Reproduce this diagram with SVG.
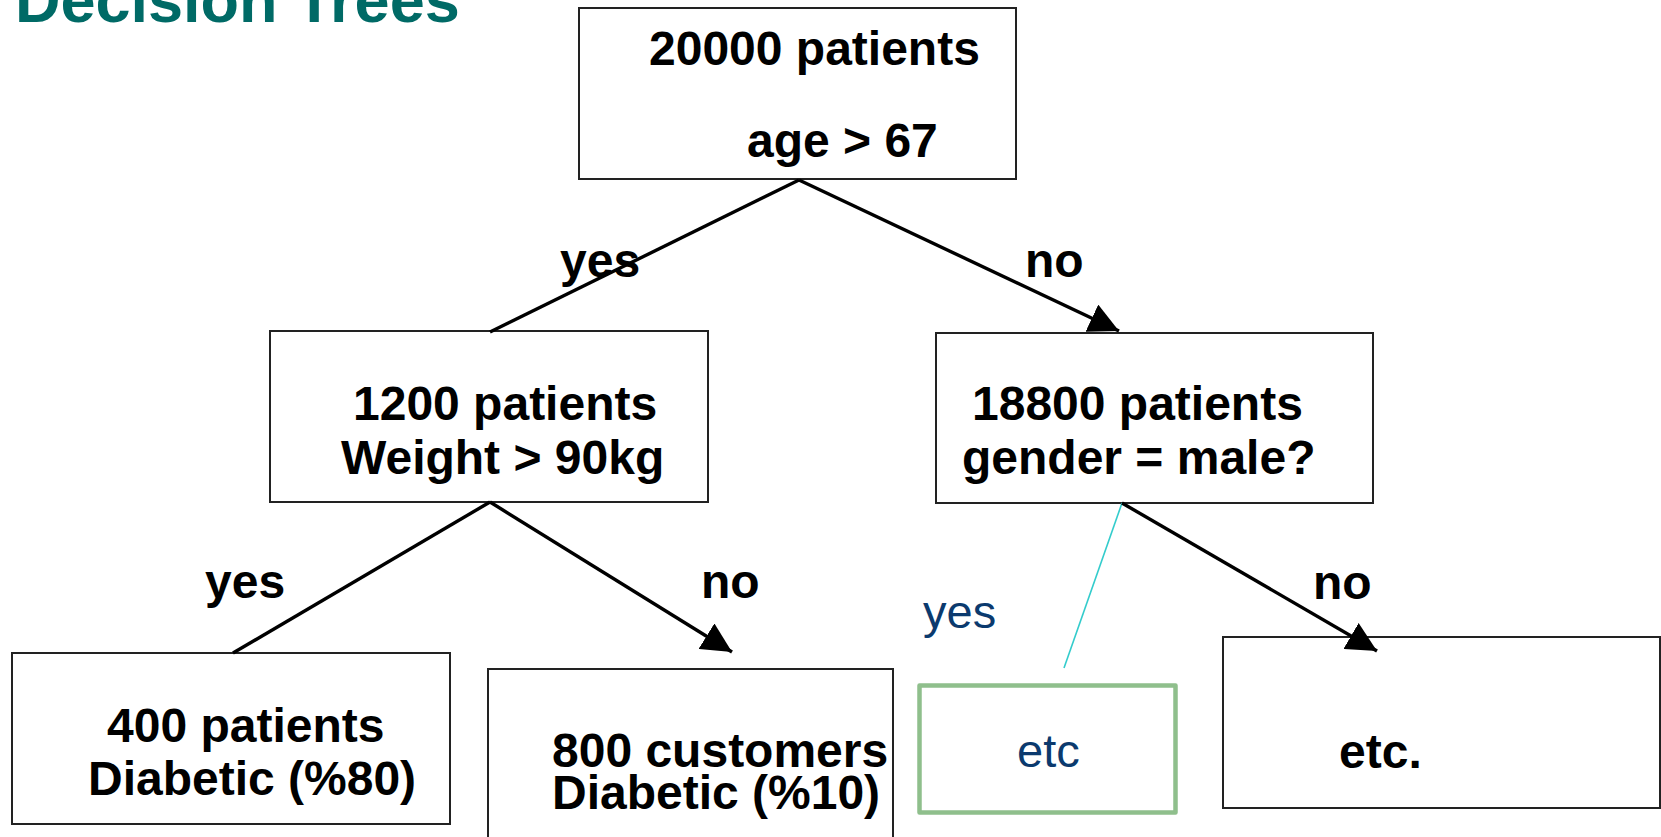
<svg xmlns="http://www.w3.org/2000/svg" width="1661" height="837" viewBox="0 0 1661 837">
<style>
.box{fill:#fff;stroke:#222;stroke-width:2}
.t{font-family:"Liberation Sans",Arial,sans-serif;font-size:48px;font-weight:bold;fill:#000}
.conn{stroke:#000;stroke-width:3.4;fill:none}
</style>
<defs>
<marker id="arr" viewBox="0 0 30 30" refX="30" refY="15" markerWidth="30" markerHeight="30" orient="auto" markerUnits="userSpaceOnUse">
<path d="M0,0 L30,15 L0,30 z" fill="#000"/>
</marker>
</defs>
<rect width="1661" height="837" fill="#fff"/>
<text x="15" y="22" font-family="'Liberation Sans',Arial,sans-serif" font-size="63" font-weight="bold" fill="#006a66">Decision Trees</text>
<g id="root">
<rect class="box" x="579" y="8" width="437" height="171"/>
<text class="t" x="649" y="65">20000 patients</text>
<text class="t" x="747" y="157">age &gt; 67</text>
</g>
<g id="n1200">
<rect class="box" x="270" y="331" width="438" height="171"/>
<text class="t" x="353" y="420">1200 patients</text>
<text class="t" x="341" y="474">Weight &gt; 90kg</text>
</g>
<g id="n18800">
<rect class="box" x="936" y="333" width="437" height="170"/>
<text class="t" x="972" y="420">18800 patients</text>
<text class="t" x="962" y="474">gender = male?</text>
</g>
<g id="n400">
<rect class="box" x="12" y="653" width="438" height="171"/>
<text class="t" x="107" y="742">400 patients</text>
<text class="t" x="88" y="795">Diabetic (%80)</text>
</g>
<g id="n800">
<rect class="box" x="488" y="669" width="405" height="180"/>
<text class="t" x="552" y="767">800 customers</text>
<text class="t" x="552" y="809">Diabetic (%10)</text>
</g>
<g id="etcYes">
<rect x="919.5" y="685.5" width="256" height="127" fill="#fff" stroke="#8fbf8c" stroke-width="4.5" stroke-linejoin="round"/>
<text x="1017" y="767" font-family="'Liberation Sans',Arial,sans-serif" font-size="47" fill="#0b3a6e">etc</text>
</g>
<g id="etcNo">
<rect class="box" x="1223" y="637" width="437" height="171"/>
<text class="t" x="1339" y="768">etc.</text>
</g>
<g id="connectors">
<line class="conn" x1="799" y1="180" x2="490" y2="332"/>
<line class="conn" x1="799" y1="180" x2="1119" y2="331" marker-end="url(#arr)"/>
<line class="conn" x1="490" y1="502" x2="233" y2="653"/>
<line class="conn" x1="490" y1="502" x2="732" y2="652" marker-end="url(#arr)"/>
<line x1="1122" y1="503" x2="1064" y2="668" stroke="#33cccc" stroke-width="1.6"/>
<line class="conn" x1="1122" y1="503" x2="1377" y2="651" marker-end="url(#arr)"/>
<text class="t" x="560" y="277">yes</text>
<text class="t" x="1025" y="277">no</text>
<text class="t" x="205" y="598">yes</text>
<text class="t" x="701" y="598">no</text>
<text x="923" y="628" font-family="'Liberation Sans',Arial,sans-serif" font-size="47" fill="#0b3a6e">yes</text>
<text class="t" x="1313" y="599">no</text>
</g>
</svg>
